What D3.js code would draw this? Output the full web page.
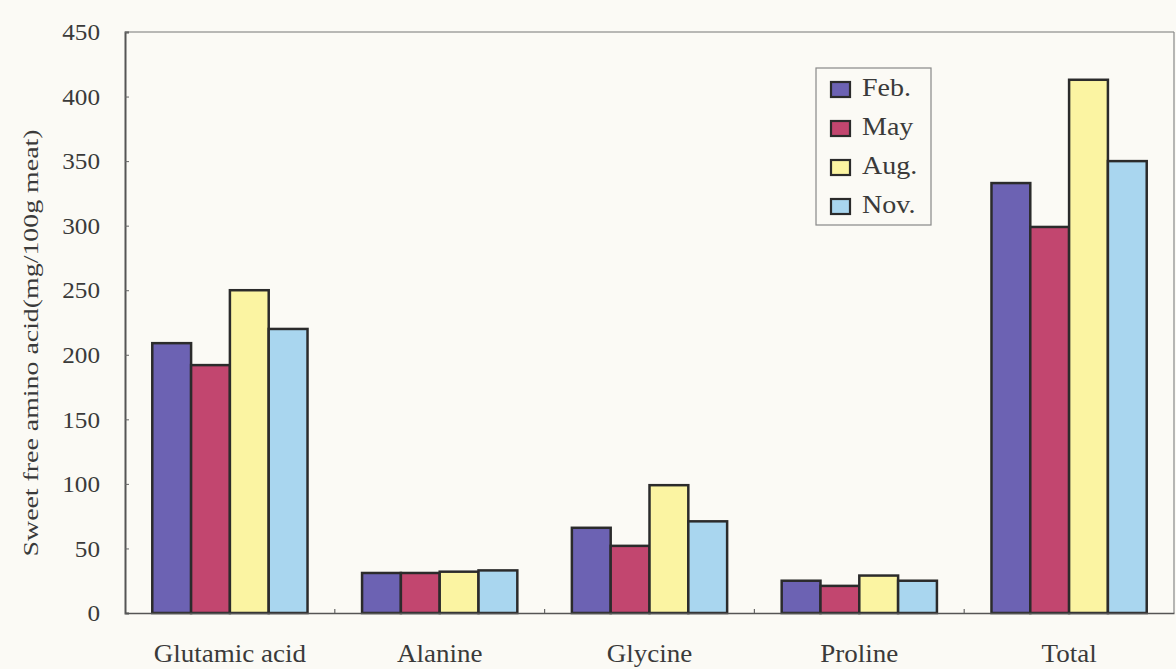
<!DOCTYPE html>
<html>
<head>
<meta charset="utf-8">
<script src="https://cdn.jsdelivr.net/npm/d3@7/dist/d3.min.js"></script>
<style>
  html, body { margin: 0; padding: 0; background: #fbfaf5; }
  svg { display: block; }
  text { font-family: "Liberation Serif", "DejaVu Serif", serif; fill: #3a3a3a; }
</style>
</head>
<body>
<svg id="chart" width="1176" height="669"></svg>
<script>
// Sweet free amino acid content by month
const categories = ["Glutamic acid", "Alanine", "Glycine", "Proline", "Total"];
const months = ["Feb.", "May", "Aug.", "Nov."];
const feb = [209, 31, 66, 25, 333];
const may = [192, 31, 52, 21, 299];
const aug = [250, 32, 99, 29, 413];
const nov = [220, 33, 71, 25, 350];
const yTicks = [0, 50, 100, 150, 200, 250, 300, 350, 400, 450];
const colors = ["#6c62b3", "#c2466f", "#fbf4a2", "#a9d6ef"];

const seriesValues = [feb, may, aug, nov];

// widen a text selection's glyphs by a factor (the typeface is set wide)
function widen(sel, factor) {
  sel.each(function () {
    const len = this.getComputedTextLength();
    d3.select(this).attr("textLength", len * factor).attr("lengthAdjust", "spacingAndGlyphs");
  });
}

const svg = d3.select("#chart");
const m = { left: 125, right: 2, top: 32, bottom: 56 };
const W = 1176, H = 669;
const innerW = W - m.left - m.right;
const innerH = H - m.top - m.bottom;

const g = svg.append("g").attr("transform", `translate(${m.left},${m.top})`);

const x0 = d3.scaleBand().domain(categories).range([0, innerW]).paddingInner(0.26).paddingOuter(0.13);
const x1 = d3.scaleBand().domain(months).range([0, x0.bandwidth()]);
const y = d3.scaleLinear().domain([0, 450]).range([innerH, 0]);

// frame: top and right borders
g.append("line").attr("x1", 0).attr("x2", innerW).attr("y1", 0).attr("y2", 0)
  .attr("stroke", "#777").attr("stroke-width", 1.2);
g.append("line").attr("x1", innerW).attr("x2", innerW).attr("y1", 0).attr("y2", innerH)
  .attr("stroke", "#888").attr("stroke-width", 1.2);

// bars
const groups = g.selectAll("g.cat").data(categories).join("g")
  .attr("class", "cat")
  .attr("transform", d => `translate(${x0(d)},0)`);

groups.selectAll("rect").data((c, i) => months.map((mo, j) => ({ mo, v: seriesValues[j][i], j })))
  .join("rect")
  .attr("x", d => x1(d.mo))
  .attr("y", d => y(d.v))
  .attr("width", x1.bandwidth())
  .attr("height", d => innerH - y(d.v))
  .attr("fill", d => colors[d.j])
  .attr("stroke", "#2b2b2b")
  .attr("stroke-width", 2.5);

// y axis
const yAxis = d3.axisLeft(y).tickValues(yTicks).tickSize(-4).tickPadding(25);
const ya = g.append("g").call(yAxis);
ya.select(".domain").attr("stroke", "#555").attr("stroke-width", 2);
ya.selectAll(".tick line").attr("stroke", "#666");
ya.selectAll(".tick text").attr("font-size", 24).attr("fill", "#3a3a3a")
  .attr("font-family", "Liberation Serif, serif").call(widen, 1.05);

// x axis with ticks at category boundaries
const xa = g.append("g").attr("transform", `translate(0,${innerH})`)
  .call(d3.axisBottom(x0).tickSize(0).tickPadding(31));
xa.select(".domain").attr("stroke", "#555").attr("stroke-width", 1.6);
xa.selectAll(".tick text").attr("font-size", 25).attr("fill", "#3a3a3a")
  .attr("font-family", "Liberation Serif, serif").call(widen, 1.08);
const step = x0.step();
g.append("g").selectAll("line").data(d3.range(1, categories.length)).join("line")
  .attr("x1", d => d * step).attr("x2", d => d * step)
  .attr("y1", innerH).attr("y2", innerH - 4)
  .attr("stroke", "#666").attr("stroke-width", 1.2);

// y axis title
svg.append("text")
  .attr("transform", `translate(38,343) rotate(-90)`)
  .attr("text-anchor", "middle")
  .attr("font-size", 21)
  .text("Sweet free amino acid(mg/100g meat)")
  .attr("textLength", 427).attr("lengthAdjust", "spacingAndGlyphs");

// legend
const lg = svg.append("g").attr("transform", "translate(816,68)");
lg.append("rect").attr("width", 115).attr("height", 157)
  .attr("fill", "#fbfaf5").attr("stroke", "#888").attr("stroke-width", 1.2);
const li = lg.selectAll("g.item").data(months).join("g")
  .attr("class", "item")
  .attr("transform", (d, i) => `translate(15,${14 + i * 39})`);
li.append("rect").attr("width", 19).attr("height", 15)
  .attr("fill", (d, i) => colors[i]).attr("stroke", "#2b2b2b").attr("stroke-width", 2.2);
li.append("text").attr("x", 31).attr("y", 14).attr("font-size", 25).text(d => d)
  .call(widen, 1.12);
</script>
</body>
</html>
